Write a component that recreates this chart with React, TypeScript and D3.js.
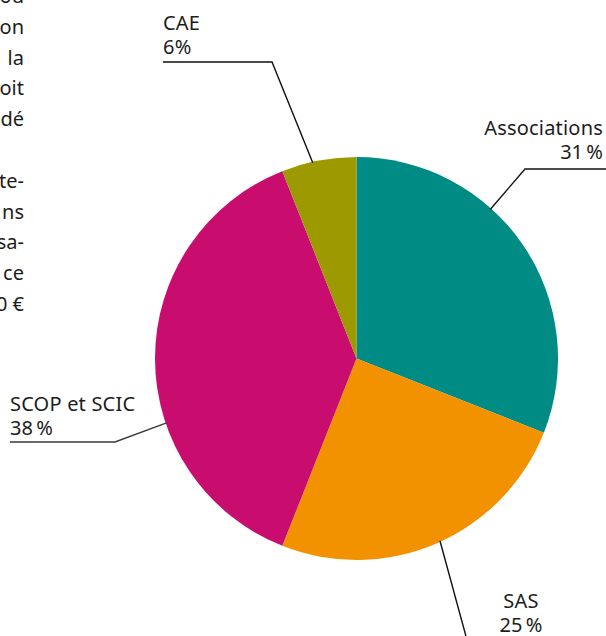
import React from "react";
import * as d3 from "d3";

const categories = ["Associations", "SAS", "SCOP et SCIC", "CAE"];
const values = [31, 25, 38, 6];
const percentLabels = ["31\u202F%", "25\u202F%", "38\u202F%", "6%"];
const colors = ["#008B84", "#F39200", "#C90D6E", "#9C9A00"];
const bodyFragments = ["ou", "on", "la", "oit", "dé", "", "ete-", "ns", "sa-", "ce", "00 €"];

const W = 606;
const H = 636;
const cx = 356.5;
const cy = 358.5;
const R = 201.5;
const FONT = "'Noto Sans', 'Open Sans', sans-serif";

// label layout: angle on the arc (deg, clockwise from top), elbow, end point, text anchor
const labelLayout = [
  { angle: 41.9, elbow: [525, 169], end: [606, 169], tx: 603, ty: 135, anchor: "end" },
  { angle: 155.4, elbow: null, end: [467, 640], tx: 521, ty: 608, anchor: "middle" },
  { angle: 251.3, elbow: [115, 442], end: [10, 442], tx: 10, ty: 411, anchor: "start" },
  { angle: 347.4, elbow: [272, 62], end: [163, 62], tx: 163, ty: 30, anchor: "start" },
];

export default function App() {
  const pie = d3.pie<number>().sort(null).value((d) => d);
  const arcs = pie(values);
  const arcGen = d3.arc<d3.PieArcDatum<number>>().innerRadius(0).outerRadius(R);

  return (
    <svg
      width={W}
      height={H}
      style={{ position: "fixed", left: 0, top: 0, background: "#fff" }}
    >
      <g>
        {bodyFragments.map((t, i) => (
          <text
            key={i}
            x={24}
            y={3 + i * 30.8}
            textAnchor="end"
            fontFamily={FONT}
            fontSize={20}
            fill="#1d1d1b"
          >
            {t}
          </text>
        ))}
      </g>
      <g transform={`translate(${cx},${cy})`}>
        {arcs.map((a, i) => (
          <path key={i} d={arcGen(a) || ""} fill={colors[i]} />
        ))}
      </g>
      {labelLayout.map((l, i) => {
        const [px, py] = d3.pointRadial((l.angle * Math.PI) / 180, R - 1);
        const pts: [number, number][] = [[cx + px, cy + py]];
        if (l.elbow) pts.push(l.elbow as [number, number]);
        pts.push(l.end as [number, number]);
        const line = d3.line();
        return (
          <g key={i}>
            <path
              d={line(pts) || ""}
              fill="none"
              stroke={i === 2 ? "#3a3a3a" : "#111"}
              strokeWidth={1.4}
            />
            <text
              x={l.tx}
              y={l.ty}
              textAnchor={l.anchor as any}
              fontFamily={FONT}
              fontSize={20}
              letterSpacing={0.2}
              fill="#1d1d1b"
            >
              {categories[i]}
            </text>
            <text
              x={l.tx}
              y={l.ty + 24}
              textAnchor={l.anchor as any}
              fontFamily={FONT}
              fontSize={20}
              letterSpacing={0.2}
              fill="#1d1d1b"
            >
              {percentLabels[i]}
            </text>
          </g>
        );
      })}
    </svg>
  );
}
